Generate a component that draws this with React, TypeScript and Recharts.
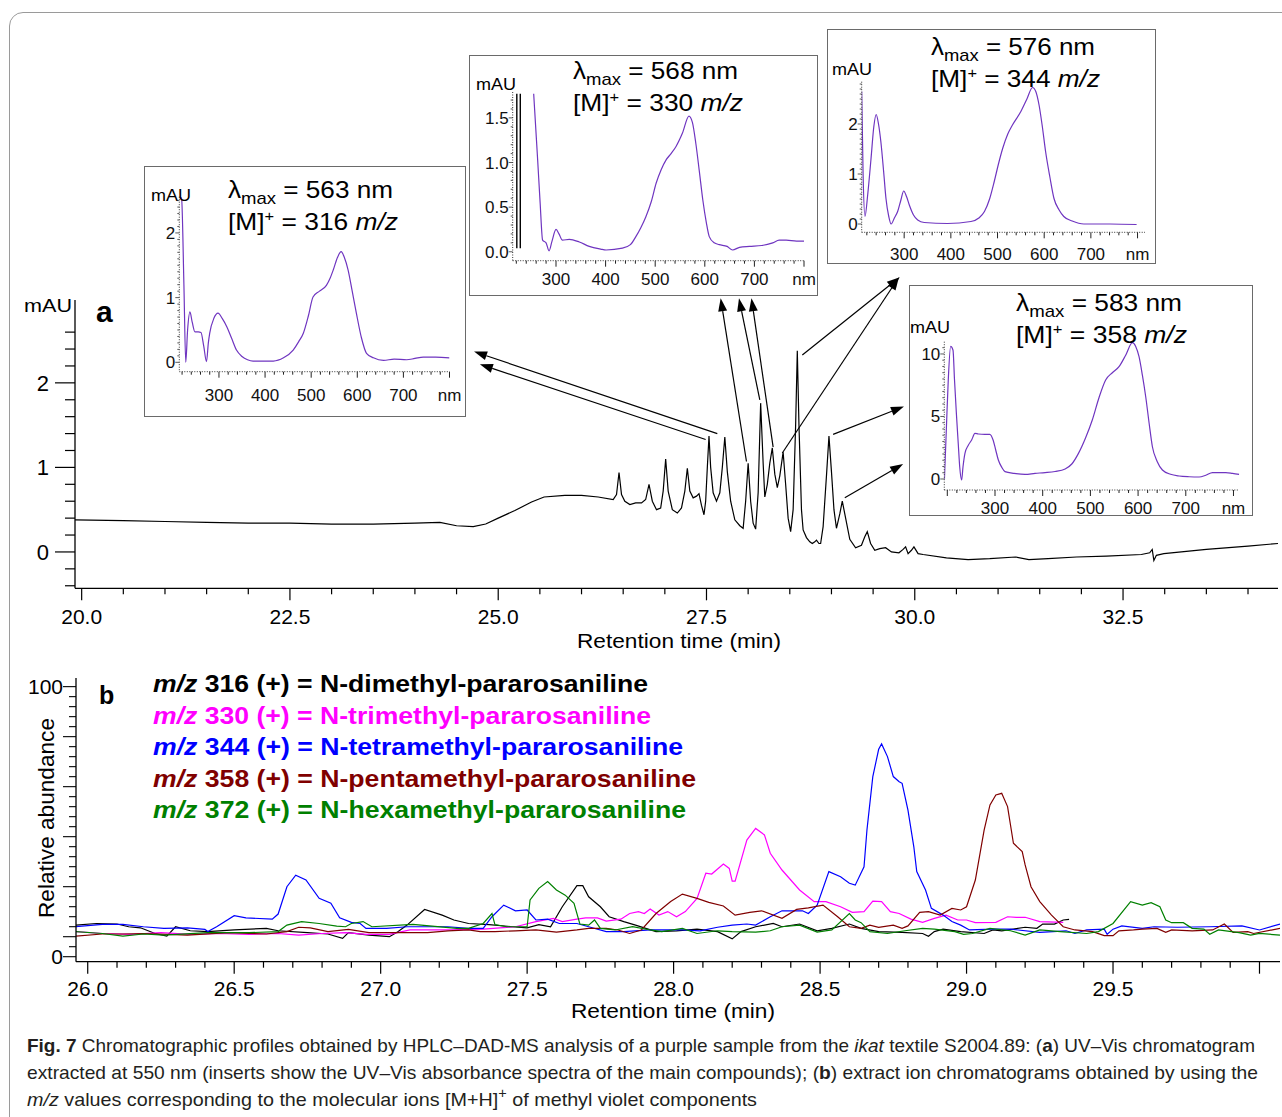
import React from 'react';
import { LineChart, Line, XAxis, YAxis, ReferenceLine } from 'recharts';

const FONT = "'Liberation Sans', Arial, Helvetica, sans-serif";
const NARROW = "'Liberation Sans Narrow', 'Liberation Sans', Arial, sans-serif";
const PURPLE = '#6f35c0';

// ---------- panel a: UV-Vis chromatogram at 550 nm (min, mAU)
const uvTrace: [number, number][] = [
  [19.92, 0.38], [20.5, 0.37], [21.0, 0.36], [21.5, 0.35], [22.0, 0.34], [22.5, 0.34], [23.0, 0.33],
  [23.5, 0.33], [24.0, 0.34], [24.3, 0.35], [24.5, 0.31], [24.7, 0.3], [24.85, 0.33], [25.0, 0.4],
  [25.2, 0.49], [25.4, 0.59], [25.55, 0.65], [25.8, 0.67], [26.0, 0.67], [26.2, 0.65], [26.38, 0.62],
  [26.42, 0.68], [26.45, 0.94], [26.48, 0.68], [26.52, 0.6], [26.58, 0.56], [26.65, 0.58], [26.72, 0.58],
  [26.77, 0.62], [26.81, 0.8], [26.85, 0.6], [26.9, 0.5], [26.95, 0.52], [26.98, 0.72], [27.01, 1.1],
  [27.04, 0.72], [27.09, 0.5], [27.15, 0.46], [27.2, 0.52], [27.24, 0.72], [27.27, 0.99], [27.3, 0.72],
  [27.34, 0.64], [27.38, 0.66], [27.41, 0.69], [27.44, 0.55], [27.47, 0.44], [27.49, 0.6], [27.51, 1.0],
  [27.53, 1.37], [27.55, 1.0], [27.58, 0.7], [27.62, 0.6], [27.66, 0.7], [27.69, 1.0], [27.72, 1.36],
  [27.75, 0.95], [27.79, 0.6], [27.84, 0.38], [27.9, 0.31], [27.94, 0.28], [27.97, 0.6], [28.0, 1.05],
  [28.03, 0.6], [28.06, 0.34], [28.09, 0.27], [28.12, 0.7], [28.15, 1.76], [28.18, 1.05], [28.2, 0.65],
  [28.23, 0.8], [28.26, 1.05], [28.29, 1.23], [28.32, 0.92], [28.35, 0.76], [28.38, 0.9], [28.42, 1.18],
  [28.45, 0.8], [28.48, 0.4], [28.51, 0.24], [28.54, 0.5], [28.57, 1.5], [28.59, 2.38], [28.61, 1.5],
  [28.64, 0.5], [28.66, 0.26], [28.7, 0.17], [28.74, 0.12], [28.77, 0.1], [28.8, 0.12], [28.82, 0.14],
  [28.85, 0.1], [28.87, 0.1], [28.9, 0.3], [28.94, 0.9], [28.97, 1.37], [29.0, 0.95], [29.03, 0.5],
  [29.06, 0.28], [29.1, 0.45], [29.13, 0.6], [29.17, 0.4], [29.22, 0.15], [29.29, 0.05], [29.36, 0.08],
  [29.4, 0.18], [29.43, 0.24], [29.47, 0.1], [29.52, 0.02], [29.58, 0.04], [29.65, 0.05], [29.72, 0.0],
  [29.81, -0.01], [29.86, 0.03], [29.89, 0.06], [29.92, -0.02], [29.96, 0.02], [29.99, 0.06], [30.04, -0.02],
  [30.1, -0.03], [30.38, -0.07], [30.64, -0.09], [30.9, -0.08], [31.21, -0.06], [31.37, -0.09], [31.6, -0.08],
  [31.94, -0.06], [32.3, -0.05], [32.72, -0.03], [32.82, -0.01], [32.85, 0.03], [32.87, -0.1], [32.9, -0.04],
  [32.99, -0.02], [33.5, 0.03], [34.0, 0.07], [34.36, 0.1],
];

// arrows from peaks to the inserts: [tail min, tail mAU, head min, head mAU]
const uvArrows: [number, number, number, number][] = [
  [27.63, 1.4, 24.71, 2.37],
  [27.49, 1.33, 24.78, 2.22],
  [27.98, 1.07, 27.67, 3.0],
  [28.14, 1.8, 27.89, 3.0],
  [28.3, 1.24, 28.04, 3.0],
  [28.65, 2.33, 29.82, 3.25],
  [28.41, 1.17, 29.81, 3.25],
  [29.02, 1.39, 29.87, 1.72],
  [29.16, 0.64, 29.86, 1.04],
];

// ---------- inserts: UV-Vis spectra (nm, mAU)
const spec316: [number, number][] = [
  [216, 2.56], [219, 2.53], [224, 1.2], [228, 0.0], [232, 0.5], [237, 0.78], [242, 0.62], [248, 0.47],
  [255, 0.47], [261, 0.46], [267, 0.25], [273, 0.01], [277, 0.3], [280, 0.45], [289, 0.68], [298, 0.76],
  [307, 0.68], [317, 0.55], [327, 0.38], [338, 0.19], [350, 0.09], [362, 0.04], [374, 0.02], [396, 0.02],
  [418, 0.02], [440, 0.07], [461, 0.19], [473, 0.32], [483, 0.45], [494, 0.72], [504, 1.01], [518, 1.1],
  [533, 1.19], [541, 1.3], [548, 1.43], [557, 1.62], [565, 1.71], [572, 1.62], [580, 1.43], [589, 1.1],
  [598, 0.76], [609, 0.38], [620, 0.14], [635, 0.07], [657, 0.03], [680, 0.05], [707, 0.04], [725, 0.06],
  [743, 0.08], [770, 0.08], [800, 0.07],
];
const spec330: [number, number][] = [
  [255, 1.77], [259, 1.4], [263, 1.03], [268, 0.55], [273, 0.13], [280, 0.1], [286, 0.01], [292, 0.12],
  [300, 0.25], [306, 0.2], [313, 0.13], [327, 0.14], [347, 0.11], [367, 0.06], [390, 0.03], [401, 0.02],
  [434, 0.04], [450, 0.08], [461, 0.17], [471, 0.27], [481, 0.39], [492, 0.56], [502, 0.77], [512, 0.92],
  [522, 1.03], [532, 1.1], [542, 1.18], [555, 1.33], [568, 1.52], [575, 1.45], [582, 1.21], [589, 0.9],
  [596, 0.58], [603, 0.33], [609, 0.17], [619, 0.1], [629, 0.08], [645, 0.06], [656, 0.02], [670, 0.05],
  [690, 0.06], [715, 0.07], [737, 0.1], [750, 0.13], [764, 0.13], [785, 0.12], [800, 0.12],
];
const spec344: [number, number][] = [
  [209, 2.65], [212, 1.0], [216, 0.15], [222, 0.6], [229, 1.31], [235, 1.95], [240, 2.19], [245, 2.0],
  [250, 1.65], [256, 1.05], [261, 0.51], [267, 0.15], [272, 0.0], [279, 0.12], [286, 0.25], [293, 0.48],
  [299, 0.66], [305, 0.55], [311, 0.38], [320, 0.18], [329, 0.08], [343, 0.03], [393, 0.01], [443, 0.05],
  [460, 0.12], [472, 0.25], [483, 0.5], [493, 0.85], [502, 1.2], [511, 1.51], [522, 1.8], [532, 1.98],
  [550, 2.25], [563, 2.5], [575, 2.73], [582, 2.65], [589, 2.38], [596, 1.95], [603, 1.45], [612, 0.95],
  [621, 0.51], [632, 0.28], [642, 0.15], [660, 0.06], [685, 0.0], [741, 0.0], [798, -0.01],
];
const spec358: [number, number][] = [
  [194, 0], [198, 4.0], [202, 7.9], [207, 10.6], [212, 10.3], [215, 8.0], [219, 5.26], [223, 2.8],
  [226, 0.98], [230, -0.08], [233, 1.0], [237, 2.05], [244, 2.7], [251, 3.12], [258, 3.65], [265, 3.6],
  [279, 3.57], [289, 3.57], [296, 3.12], [301, 2.4], [307, 1.52], [314, 0.95], [321, 0.59], [340, 0.45],
  [363, 0.37], [384, 0.45], [405, 0.51], [426, 0.6], [447, 0.8], [461, 1.2], [475, 2.05], [490, 3.3],
  [504, 4.72], [518, 6.5], [532, 7.92], [546, 8.5], [560, 8.98], [574, 9.9], [588, 10.9], [595, 10.6],
  [602, 9.78], [609, 8.3], [616, 6.58], [623, 4.5], [630, 2.58], [640, 1.4], [651, 0.72], [668, 0.38],
  [686, 0.24], [707, 0.18], [728, 0.16], [742, 0.3], [756, 0.51], [770, 0.51], [784, 0.51], [798, 0.45],
  [812, 0.37],
];
// two black traces at the start of the m/z 330 spectrum: [nm, low mAU, high mAU]
const spec330Spikes: [number, number, number][] = [[221, 0.04, 1.77], [228, 0.04, 1.77]];

// ---------- panel b: extracted ion chromatograms (min, relative abundance)
const ion316: [number, number][] = [
  [25.96, 11.7], [26.03, 12.3], [26.1, 12.1], [26.14, 11.1], [26.18, 10.7], [26.23, 8.6], [26.27, 7.6],
  [26.3, 11.1], [26.35, 9.6], [26.41, 9.3], [26.5, 9.9], [26.61, 10.5], [26.65, 9.6], [26.75, 8.9],
  [26.82, 8.4], [26.87, 6.8], [26.89, 8.9], [26.96, 8.0], [27.03, 7.4], [27.06, 9.3], [27.09, 11.7],
  [27.15, 17.5], [27.21, 15.4], [27.25, 13.6], [27.3, 12.3], [27.37, 11.9], [27.45, 11.1], [27.5, 10.7],
  [27.54, 11.9], [27.58, 11.1], [27.62, 18.5], [27.67, 26.3], [27.69, 26.3], [27.71, 22.2], [27.75, 18.5],
  [27.78, 14.8], [27.83, 13.0], [27.87, 11.7], [27.94, 9.3], [28.01, 9.6], [28.08, 10.2], [28.15, 9.3],
  [28.2, 6.6], [28.23, 9.3], [28.28, 11.1], [28.34, 12.3], [28.37, 11.1], [28.43, 12.1], [28.49, 9.6],
  [28.54, 10.5], [28.6, 12.1], [28.64, 10.5], [28.7, 9.3], [28.78, 9.0], [28.85, 8.6], [28.87, 7.6],
  [28.89, 9.3], [28.92, 10.2], [28.98, 9.3], [29.06, 8.6], [29.09, 9.9], [29.12, 9.6], [29.2, 10.9],
  [29.24, 10.5], [29.26, 12.1], [29.3, 12.1], [29.33, 13.6], [29.35, 13.8],
];
const ion330: [number, number][] = [
  [25.96, 9.3], [26.05, 8.6], [26.15, 8.3], [26.25, 8.9], [26.35, 8.3], [26.45, 8.6], [26.55, 8.3],
  [26.65, 8.6], [26.72, 8.0], [26.8, 8.6], [26.88, 8.9], [26.95, 8.3], [27.03, 8.3], [27.1, 9.9],
  [27.24, 9.9], [27.35, 10.2], [27.46, 11.1], [27.53, 13.0], [27.59, 14.2], [27.62, 13.0], [27.67, 13.9],
  [27.7, 14.4], [27.74, 14.4], [27.77, 13.2], [27.82, 13.9], [27.85, 16.0], [27.88, 16.7], [27.9, 16.0],
  [27.92, 17.7], [27.95, 15.4], [27.98, 16.7], [28.01, 14.8], [28.04, 16.7], [28.08, 21.6], [28.11, 30.9],
  [28.13, 30.6], [28.17, 34.3], [28.19, 32.7], [28.2, 28.0], [28.21, 28.0], [28.25, 43.2], [28.28, 47.5],
  [28.31, 45.1], [28.33, 38.3], [28.37, 32.1], [28.43, 24.7], [28.48, 20.4], [28.52, 20.4], [28.57, 18.5],
  [28.61, 16.4], [28.65, 16.7], [28.68, 20.6], [28.71, 20.4], [28.74, 16.7], [28.77, 16.0], [28.81, 13.9],
  [28.85, 12.7], [28.89, 14.2], [28.93, 15.4], [28.97, 13.6], [29.0, 13.6], [29.03, 12.6], [29.1, 12.7],
  [29.14, 14.8], [29.17, 14.6], [29.2, 14.6], [29.25, 13.0], [29.33, 12.7],
];
const ion344: [number, number][] = [
  [25.96, 11.1], [26.05, 12.0], [26.12, 12.0], [26.19, 11.1], [26.26, 10.5], [26.34, 10.7], [26.4, 10.1],
  [26.41, 9.3], [26.44, 11.1], [26.5, 15.2], [26.54, 14.4], [26.63, 13.9], [26.65, 15.8], [26.68, 25.9],
  [26.71, 30.2], [26.745, 28.4], [26.79, 21.6], [26.83, 19.8], [26.86, 14.4], [26.9, 12.7], [26.93, 12.3],
  [26.95, 10.5], [27.02, 10.5], [27.09, 11.1], [27.23, 11.1], [27.3, 10.5], [27.35, 10.5], [27.38, 14.8],
  [27.42, 19.1], [27.46, 17.0], [27.5, 17.3], [27.53, 13.6], [27.57, 13.9], [27.61, 12.3], [27.67, 12.3],
  [27.71, 11.1], [27.77, 9.3], [27.83, 9.3], [27.92, 9.9], [28.03, 9.9], [28.09, 9.6], [28.15, 10.9],
  [28.2, 11.7], [28.25, 12.1], [28.28, 11.7], [28.33, 14.8], [28.37, 17.0], [28.44, 17.0], [28.46, 16.0],
  [28.49, 19.1], [28.53, 31.5], [28.57, 29.6], [28.6, 27.2], [28.62, 26.5], [28.65, 33.3], [28.66, 46.9],
  [28.68, 66.7], [28.7, 76.8], [28.71, 78.8], [28.73, 74.1], [28.75, 66.7], [28.77, 64.8], [28.78, 64.2],
  [28.8, 54.3], [28.82, 40.7], [28.83, 31.5], [28.86, 24.7], [28.88, 17.9], [28.92, 15.4], [28.95, 13.0],
  [28.98, 11.7], [29.01, 9.9], [29.09, 10.2], [29.15, 10.2], [29.25, 9.0], [29.34, 9.6], [29.37, 8.6],
  [29.41, 9.9], [29.47, 10.2], [29.48, 8.3], [29.5, 10.2], [29.53, 11.4], [29.6, 10.5], [29.64, 11.1],
  [29.72, 10.9], [29.83, 11.1], [29.94, 11.4], [30.0, 9.9], [30.07, 12.1],
];
const ion358: [number, number][] = [
  [25.96, 7.6], [26.05, 8.4], [26.12, 8.4], [26.19, 8.6], [26.34, 8.0], [26.48, 8.9], [26.61, 8.4],
  [26.68, 9.3], [26.72, 10.9], [26.76, 10.7], [26.82, 9.3], [26.89, 10.1], [26.96, 8.9], [27.09, 8.9],
  [27.16, 8.9], [27.23, 9.6], [27.3, 9.9], [27.34, 9.3], [27.39, 9.3], [27.46, 9.6], [27.53, 9.9],
  [27.6, 9.1], [27.67, 9.9], [27.71, 10.5], [27.77, 10.5], [27.81, 9.9], [27.85, 8.6], [27.89, 9.9],
  [27.94, 16.0], [27.99, 20.4], [28.03, 23.2], [28.08, 21.6], [28.12, 20.1], [28.17, 18.8], [28.21, 15.4],
  [28.26, 16.4], [28.3, 17.0], [28.37, 14.2], [28.42, 17.5], [28.46, 18.1], [28.51, 19.1], [28.56, 14.8],
  [28.6, 11.1], [28.64, 10.5], [28.67, 11.7], [28.7, 10.9], [28.75, 11.7], [28.78, 10.5], [28.8, 11.4],
  [28.84, 16.4], [28.87, 16.7], [28.91, 15.4], [28.95, 17.9], [28.98, 17.3], [29.0, 18.5], [29.03, 28.4],
  [29.06, 46.9], [29.08, 56.2], [29.1, 59.9], [29.12, 60.5], [29.14, 55.6], [29.16, 42.0], [29.19, 38.9],
  [29.2, 34.0], [29.22, 25.9], [29.25, 20.4], [29.29, 15.4], [29.33, 11.1], [29.37, 9.9], [29.43, 9.3],
  [29.47, 7.8], [29.5, 7.8], [29.52, 9.6], [29.57, 9.9], [29.6, 10.2], [29.65, 10.5], [29.68, 9.0],
  [29.7, 9.9], [29.77, 9.6], [29.84, 9.9], [29.88, 12.1], [29.91, 9.0], [29.96, 9.3], [29.98, 8.6],
  [30.07, 10.5],
];
const ion372: [number, number][] = [
  [25.96, 9.3], [26.05, 8.6], [26.12, 7.6], [26.19, 8.4], [26.26, 8.0], [26.41, 8.9], [26.55, 8.9],
  [26.65, 9.3], [26.68, 11.7], [26.73, 13.0], [26.79, 12.3], [26.85, 11.3], [26.88, 11.1], [26.9, 12.3],
  [26.94, 13.0], [26.97, 11.1], [27.11, 12.0], [27.26, 10.5], [27.3, 10.5], [27.35, 12.3], [27.38, 16.0],
  [27.39, 11.9], [27.43, 11.1], [27.5, 11.1], [27.51, 21.0], [27.54, 25.3], [27.57, 27.8], [27.6, 24.7],
  [27.63, 22.8], [27.66, 19.8], [27.68, 12.1], [27.71, 11.7], [27.73, 13.6], [27.75, 10.5], [27.8, 9.9],
  [27.86, 11.1], [27.92, 9.9], [27.96, 9.3], [28.03, 10.5], [28.08, 8.6], [28.15, 9.6], [28.2, 9.3],
  [28.28, 9.1], [28.33, 9.6], [28.37, 11.1], [28.43, 11.7], [28.49, 9.1], [28.54, 9.9], [28.6, 16.0],
  [28.62, 13.6], [28.64, 12.6], [28.67, 9.3], [28.73, 8.6], [28.79, 9.6], [28.85, 10.5], [28.89, 10.2],
  [28.96, 9.3], [28.99, 8.3], [29.02, 8.6], [29.08, 10.5], [29.15, 9.6], [29.2, 8.0], [29.25, 9.9],
  [29.32, 9.3], [29.41, 8.6], [29.45, 9.3], [29.5, 12.3], [29.56, 20.4], [29.6, 19.1], [29.63, 20.0],
  [29.66, 18.5], [29.68, 13.6], [29.7, 12.6], [29.74, 12.6], [29.77, 10.5], [29.81, 10.2], [29.83, 8.3],
  [29.86, 9.9], [29.93, 8.9], [29.97, 8.0], [30.0, 8.6], [30.07, 8.0],
];

const ionMz = ['316', '330', '344', '358', '372'];
const ionNames = [
  'N-dimethyl-pararosaniline',
  'N-trimethyl-pararosaniline',
  'N-tetramethyl-pararosaniline',
  'N-pentamethyl-pararosaniline',
  'N-hexamethyl-pararosaniline',
];
const ionColors = ['#000000', '#ff00ff', '#0000ff', '#800000', '#008000'];
const ionSeries = [ion316, ion330, ion344, ion358, ion372];

const range = (a: number, b: number, s: number) =>
  Array.from({ length: Math.round((b - a) / s) + 1 }, (_, i) => +(a + i * s).toFixed(4));

const aXTicks = range(20, 34, 0.5);
const aYTicks = range(-0.4, 2.6, 0.2);
const bXTicks = range(26, 30, 0.1);
const bYTicks = Array.from({ length: 28 }, (_, i) => 100 - (i * 100) / 27);

const toRows = (pts: [number, number][]) => pts.map(([x, y]) => ({ x, y }));

// ---------- tick renderers
const near = (v: number, step: number) => Math.abs(v / step - Math.round(v / step)) < 1e-6;

const aXTick = (p: any) => {
  const v = p.payload.value;
  const major = near(v, 2.5);
  return (
    <g>
      <line x1={p.x} y1={p.y} x2={p.x} y2={p.y + (major ? 12 : 6)} stroke="#000" strokeWidth={1.2} />
      {major && (
        <text x={p.x} y={p.y + 36} textAnchor="middle" fontSize={21} fontFamily={FONT} fill="#000">
          {v.toFixed(1)}
        </text>
      )}
    </g>
  );
};

const aYTick = (p: any) => {
  const v = p.payload.value;
  const major = near(v, 1);
  return (
    <g>
      <line x1={p.x - (major ? 20 : 10)} y1={p.y} x2={p.x} y2={p.y} stroke="#000" strokeWidth={1.2} />
      {major && (
        <text x={p.x - 26} y={p.y + 8} textAnchor="end" fontSize={22} fontFamily={FONT} fill="#000">
          {Math.round(v)}
        </text>
      )}
    </g>
  );
};

const bXTick = (p: any) => {
  const v = p.payload.value;
  const major = near(v, 0.5);
  return (
    <g>
      <line x1={p.x} y1={p.y} x2={p.x} y2={p.y + (major ? 12 : 6)} stroke="#000" strokeWidth={1.2} />
      {major && v < 29.99 && (
        <text x={p.x} y={p.y + 34} textAnchor="middle" fontSize={21} fontFamily={FONT} fill="#000">
          {v.toFixed(1)}
        </text>
      )}
    </g>
  );
};

const bYTick = (p: any) => {
  const v = p.payload.value;
  const i = Math.round(((100 - v) * 27) / 100);
  const major = i % 5 === 0 || i === 27;
  const label = i === 0 ? '100' : i === 27 ? '0' : '';
  return (
    <g>
      <line x1={p.x - (major ? 13 : 7)} y1={p.y} x2={p.x} y2={p.y} stroke="#000" strokeWidth={1.1} />
      {label && (
        <text x={p.x - 13} y={p.y + 7} textAnchor="end" fontSize={21} fontFamily={FONT} fill="#000">
          {label}
        </text>
      )}
    </g>
  );
};

const specXTick = (dy: number) => (p: any) => {
  const v = p.payload.value;
  const major = v % 100 === 0;
  return (
    <g>
      <line x1={p.x} y1={p.y} x2={p.x} y2={p.y + (major ? 6 : 3)} stroke="#222" strokeWidth={1} />
      {major && v >= 300 && (
        <text x={p.x} y={p.y + dy} textAnchor="middle" fontSize={17} fontFamily={FONT} fill="#111">
          {v === 800 ? 'nm' : v}
        </text>
      )}
    </g>
  );
};

const specYTick = (labels: number[], digits: number) => (p: any) => {
  const v = p.payload.value;
  const major = labels.some((l) => Math.abs(l - v) < 1e-6);
  return (
    <g>
      <line x1={p.x - (major ? 4 : 2)} y1={p.y} x2={p.x} y2={p.y} stroke="#333" strokeWidth={0.8} />
      {major && (
        <text x={p.x - 4} y={p.y + 6} textAnchor="end" fontSize={17} fontFamily={FONT} fill="#111">
          {v.toFixed(digits)}
        </text>
      )}
    </g>
  );
};

const arrowShape = (p: any) => {
  const { x1, y1, x2, y2 } = p;
  const ang = Math.atan2(y2 - y1, x2 - x1);
  const L = 13;
  const W = 4.5;
  const bx = x2 - L * Math.cos(ang);
  const by = y2 - L * Math.sin(ang);
  const nx = -Math.sin(ang) * W;
  const ny = Math.cos(ang) * W;
  return (
    <g>
      <line x1={x1} y1={y1} x2={bx} y2={by} stroke="#000" strokeWidth={1.2} />
      <polygon points={`${x2},${y2} ${bx + nx},${by + ny} ${bx - nx},${by - ny}`} fill="#000" />
    </g>
  );
};

// ---------- spectrum insert
interface SpectrumProps {
  data: [number, number][];
  box: [number, number, number, number];
  plot: [number, number, number, number];
  xDomain: [number, number];
  yDomain: [number, number];
  xTicks: number[];
  yTicks: number[];
  yLabels: number[];
  digits: number;
  labelDy: number;
  spikes?: [number, number, number][];
}

function Spectrum({ data, box, plot, xDomain, yDomain, xTicks, yTicks, yLabels, digits, labelDy, spikes }: SpectrumProps) {
  const [bl, bt, bw, bh] = box;
  const [pl, pt, pr, pb] = plot;
  const YW = 30;
  const XH = 20;
  const extra = 14; // svg a little taller than the frame so tick labels are never clipped
  const margin = { left: pl - bl - YW, top: pt - bt, right: bl + bw - pr, bottom: bt + bh + extra - pb - XH };
  return (
    <div
      style={{
        position: 'absolute', left: bl, top: bt, width: bw, height: bh,
        border: '1px solid #6a6a6a', background: '#fff', boxSizing: 'border-box',
      }}
    >
      <div style={{ position: 'absolute', left: -1, top: -1 }}>
        <LineChart width={bw} height={bh + extra} data={toRows(data)} margin={margin}>
          <XAxis
            type="number" dataKey="x" domain={xDomain} allowDataOverflow ticks={xTicks} interval={0}
            tickSize={0} tickMargin={0} tickLine={false} height={XH}
            axisLine={{ stroke: '#333', strokeWidth: 1, strokeDasharray: '1 1.5' }}
            tick={specXTick(labelDy)}
          />
          <YAxis
            type="number" dataKey="y" domain={yDomain} allowDataOverflow ticks={yTicks} interval={0}
            tickSize={0} tickMargin={0} tickLine={false} width={YW}
            axisLine={{ stroke: '#333', strokeWidth: 1, strokeDasharray: '1 1.5' }}
            tick={specYTick(yLabels, digits)}
          />
          {(spikes || []).map(([nm, lo, hi]) => (
            <ReferenceLine
              key={nm}
              segment={[{ x: nm, y: lo }, { x: nm, y: hi }]}
              stroke="#000"
              strokeWidth={1.4}
              ifOverflow="visible"
            />
          ))}
          <Line
            type="monotone" dataKey="y" stroke={PURPLE} strokeWidth={1.2} dot={false}
            isAnimationActive={false}
          />
        </LineChart>
      </div>
    </div>
  );
}

function Title({ x, y, w1, w2, lambda, mz }: { x: number; y: number; w1: number; w2: number; lambda: string; mz: string }) {
  return (
    <g fontFamily={FONT} fill="#000">
      <text x={x} y={y} fontSize={24} textLength={w1} lengthAdjust="spacingAndGlyphs">
        λ<tspan fontSize={17} dy={6}>max</tspan>
        <tspan dy={-6}> = {lambda} nm</tspan>
      </text>
      <text x={x} y={y + 32} fontSize={24} textLength={w2} lengthAdjust="spacingAndGlyphs">
        [M]<tspan fontSize={15} dy={-9}>+</tspan>
        <tspan dy={9}> = {mz} </tspan>
        <tspan fontStyle="italic">m/z</tspan>
      </text>
    </g>
  );
}

export default function App() {
  const uvRows = uvTrace.map(([t, v]) => ({ t, v }));
  const legendW = [495, 498, 530, 543, 533];

  return (
    <div
      style={{
        position: 'absolute', left: 0, top: 0, width: 1282, height: 1117, overflow: 'hidden',
        background: '#fff', fontFamily: FONT,
      }}
    >
      {/* figure frame */}
      <div
        style={{
          position: 'absolute', left: 9, top: 12, width: 1300, height: 1140,
          border: '1px solid #9a9a9a', borderRadius: 14, boxSizing: 'border-box',
        }}
      />

      {/* panel a */}
      <div style={{ position: 'absolute', left: 0, top: 250 }}>
        <LineChart width={1282} height={380} data={uvRows} margin={{ top: 50, right: 4, bottom: 11.7, left: 15 }}>
          <XAxis
            type="number" dataKey="t" domain={[19.92, 34.36]} allowDataOverflow ticks={aXTicks} interval={0}
            tickSize={0} tickMargin={0} tickLine={false} height={30}
            axisLine={{ stroke: '#000', strokeWidth: 1.3 }} tick={aXTick}
          />
          <YAxis
            type="number" domain={[-0.43, 2.98]} allowDataOverflow ticks={aYTicks} interval={0}
            tickSize={0} tickMargin={0} tickLine={false} width={60}
            axisLine={{ stroke: '#000', strokeWidth: 1.3 }} tick={aYTick}
          />
          {uvArrows.map(([t1, v1, t2, v2], i) => (
            <ReferenceLine
              key={i}
              segment={[{ x: t1, y: v1 }, { x: t2, y: v2 }]}
              ifOverflow="visible"
              shape={arrowShape}
            />
          ))}
          <Line type="linear" dataKey="v" stroke="#000" strokeWidth={1.2} dot={false} isAnimationActive={false} />
        </LineChart>
      </div>

      <Spectrum
        data={spec316} box={[144, 166, 322, 251]} plot={[179.3, 196.7, 449.5, 371.7]}
        xDomain={[214, 800]} yDomain={[-0.145, 2.56]} xTicks={range(220, 800, 20)}
        yTicks={range(0, 2.5, 0.1)} yLabels={[0, 1, 2]} digits={0} labelDy={29}
      />
      <Spectrum
        data={spec330} box={[469, 55, 349, 241]} plot={[512.7, 92, 804, 260.7]}
        xDomain={[212.7, 800]} yDomain={[-0.1, 1.79]} xTicks={range(220, 800, 20)}
        yTicks={range(0, 1.7, 0.1)} yLabels={[0, 0.5, 1, 1.5]} digits={1} labelDy={24}
        spikes={spec330Spikes}
      />
      <Spectrum
        data={spec344} box={[827, 29, 329, 235]} plot={[861.7, 81.7, 1145, 232.3]}
        xDomain={[209, 816]} yDomain={[-0.166, 2.846]} xTicks={range(220, 800, 20)}
        yTicks={range(0, 2.8, 0.1)} yLabels={[0, 1, 2]} digits={0} labelDy={28}
      />
      <Spectrum
        data={spec358} box={[909, 285, 344, 231]} plot={[944.3, 341.7, 1239.2, 490]}
        xDomain={[193.7, 812]} yDomain={[-0.88, 10.98]} xTicks={range(200, 800, 20)}
        yTicks={range(0, 10.5, 0.5)} yLabels={[0, 5, 10]} digits={0} labelDy={24}
      />

      {/* panel b */}
      <div style={{ position: 'absolute', left: 0, top: 650 }}>
        <LineChart width={1282} height={380} margin={{ top: 28, right: 2, bottom: 38.3, left: 16 }}>
          <XAxis
            type="number" dataKey="x" domain={[25.96, 30.07]} allowDataOverflow ticks={bXTicks} interval={0}
            tickSize={0} tickMargin={0} tickLine={false} height={30}
            axisLine={{ stroke: '#000', strokeWidth: 1.3 }} tick={bXTick}
          />
          <YAxis
            type="number" domain={[-1.85, 103.2]} allowDataOverflow ticks={bYTicks} interval={0}
            tickSize={0} tickMargin={0} tickLine={false} width={60}
            axisLine={{ stroke: '#000', strokeWidth: 1.3 }} tick={bYTick}
          />
          {ionSeries.map((s, i) => (
            <Line
              key={ionMz[i]} data={toRows(s)} type="linear" dataKey="y" stroke={ionColors[i]}
              strokeWidth={1.2} dot={false} isAnimationActive={false}
            />
          ))}
        </LineChart>
      </div>

      {/* texts and labels */}
      <svg width={1282} height={1117} style={{ position: 'absolute', left: 0, top: 0, pointerEvents: 'none' }}>
        <g fontFamily={FONT} fill="#000">
          <text x={24} y={312} fontSize={19} textLength={48} lengthAdjust="spacingAndGlyphs">mAU</text>
          <text x={96} y={322} fontSize={30} fontWeight="bold">a</text>
          <text x={679} y={648} fontSize={21} textAnchor="middle" textLength={204} lengthAdjust="spacingAndGlyphs">
            Retention time (min)
          </text>

          <text x={151} y={201} fontSize={16} textLength={40} lengthAdjust="spacingAndGlyphs">mAU</text>
          <text x={476} y={90} fontSize={16} textLength={40} lengthAdjust="spacingAndGlyphs">mAU</text>
          <text x={832} y={75} fontSize={16} textLength={40} lengthAdjust="spacingAndGlyphs">mAU</text>
          <text x={910} y={333} fontSize={16} textLength={40} lengthAdjust="spacingAndGlyphs">mAU</text>
        </g>
        <Title x={228} y={198} w1={165} w2={170} lambda="563" mz="316" />
        <Title x={573} y={79} w1={165} w2={170} lambda="568" mz="330" />
        <Title x={931} y={55} w1={164} w2={169} lambda="576" mz="344" />
        <Title x={1016} y={311} w1={166} w2={171} lambda="583" mz="358" />

        <g fontFamily={FONT}>
          <text x={99} y={704} fontSize={25} fontWeight="bold">b</text>
          <text
            x={54} y={818} fontSize={22} textAnchor="middle" transform="rotate(-90 54 818)"
            textLength={200} lengthAdjust="spacingAndGlyphs"
          >
            Relative abundance
          </text>
          {ionMz.map((mz, i) => (
            <text
              key={mz} x={153} y={692 + i * 31.5} fontSize={24} fontWeight="bold" fill={ionColors[i]}
              textLength={legendW[i]} lengthAdjust="spacingAndGlyphs"
            >
              <tspan fontStyle="italic">m/z</tspan> {mz} (+) = {ionNames[i]}
            </text>
          ))}
          <text x={673} y={1018} fontSize={21} textAnchor="middle" textLength={204} lengthAdjust="spacingAndGlyphs">
            Retention time (min)
          </text>
        </g>

        {/* caption */}
        <g fontFamily={NARROW} fontSize={19} fill="#231f20">
          <text x={27} y={1052} textLength={1228} lengthAdjust="spacingAndGlyphs">
            <tspan fontWeight="bold">Fig. 7</tspan>  Chromatographic profiles obtained by HPLC–DAD-MS analysis of a
            purple sample from the <tspan fontStyle="italic">ikat</tspan> textile S2004.89: (<tspan fontWeight="bold">a</tspan>) UV–Vis chromatogram
          </text>
          <text x={27} y={1079} textLength={1231} lengthAdjust="spacingAndGlyphs">
            extracted at 550 nm (inserts show the UV–Vis absorbance spectra of the main compounds); (<tspan fontWeight="bold">b</tspan>) extract ion chromatograms obtained by using the
          </text>
          <text x={27} y={1106} textLength={730} lengthAdjust="spacingAndGlyphs">
            <tspan fontStyle="italic">m/z</tspan> values corresponding to the molecular ions [M+H]<tspan fontSize={14} dy={-8}>+</tspan>
            <tspan dy={8}> of methyl violet components</tspan>
          </text>
        </g>
      </svg>
    </div>
  );
}
